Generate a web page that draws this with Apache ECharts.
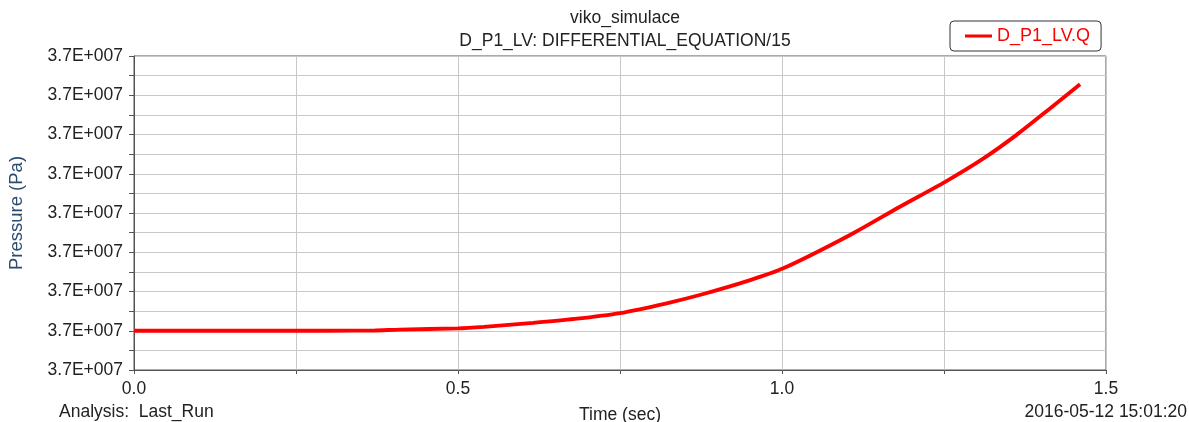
<!DOCTYPE html>
<html>
<head>
<meta charset="utf-8">
<script src="https://cdn.jsdelivr.net/npm/echarts@6/dist/echarts.min.js"></script>
<style>
html,body{margin:0;padding:0;background:#fff;}
#chart{width:1189px;height:422px;}
</style>
</head>
<body>
<div id="chart"></div>
<script>
// Data
const basePressure = 37000000; // Pa
const timeSec = [0.0, 0.1, 0.2, 0.3, 0.37, 0.41, 0.5, 0.54, 0.616, 0.68, 0.75, 0.822, 0.873, 0.951, 1.002, 1.105, 1.182, 1.2525, 1.311, 1.362, 1.414, 1.46];
const pressureOffsetPa = [1.0, 1.0, 1.0, 1.0, 1.005, 1.03, 1.06, 1.1, 1.2, 1.3, 1.45, 1.70, 1.91, 2.29, 2.59, 3.44, 4.16, 4.80, 5.39, 5.99, 6.67, 7.28];
const seriesName = 'D_P1_LV.Q';
const titleLines = ['viko_simulace', 'D_P1_LV: DIFFERENTIAL_EQUATION/15'];
const analysisText = 'Analysis:  Last_Run';
const timestampText = '2016-05-12 15:01:20';

const points = timeSec.map((t, i) => [t, basePressure + pressureOffsetPa[i]]);

function fmtExp(v) {
  const e = Math.floor(Math.log10(Math.abs(v)));
  const m = v / Math.pow(10, e);
  return m.toFixed(1) + 'E+' + String(e).padStart(3, '0');
}

const font = 'Liberation Sans, Arial, sans-serif';
const fs = 17.5;
const chart = echarts.init(document.getElementById('chart'));
chart.setOption({
  animation: false,
  backgroundColor: '#fff',
  title: {
    text: titleLines.join('\n'),
    left: 620, top: 2, textAlign: 'center',
    textStyle: { fontFamily: font, fontSize: fs, fontWeight: 'normal', color: '#222', lineHeight: 23 }
  },
  legend: {
    left: 950, top: 21,
    data: [seriesName],
    icon: 'rect', itemWidth: 27, itemHeight: 3,
    padding: [6, 11, 6, 15],
    borderColor: '#333', borderWidth: 1, borderRadius: 4,
    textStyle: { fontFamily: font, fontSize: 18, color: '#ff0000' }
  },
  grid: {
    left: 134, right: 83, top: 56, bottom: 52,
    outerBoundsMode: 'none', containLabel: false,
    show: true, borderColor: '#555', borderWidth: 1, backgroundColor: '#fff'
  },
  xAxis: {
    type: 'value', min: 0, max: 1.5, interval: 0.5,
    name: 'Time (sec)', nameLocation: 'middle', nameGap: 36,
    nameTextStyle: { fontFamily: font, fontSize: fs, color: '#222' },
    axisLine: { show: true, lineStyle: { color: '#555', width: 1 } },
    axisTick: { show: true, length: 4, lineStyle: { color: '#555' } },
    minorTick: { show: true, splitNumber: 2, length: 4, lineStyle: { color: '#555' } },
    splitLine: { show: true, lineStyle: { color: '#c8c8c8', width: 1 } },
    minorSplitLine: { show: true, lineStyle: { color: '#c8c8c8', width: 1 } },
    axisLabel: { fontFamily: font, fontSize: fs, color: '#222', margin: 10, formatter: v => v.toFixed(1) }
  },
  yAxis: {
    type: 'value', min: basePressure, max: basePressure + 8, interval: 1,
    name: 'Pressure (Pa)', nameLocation: 'middle', nameGap: 108, nameRotate: 90,
    nameTextStyle: { fontFamily: font, fontSize: 18.5, color: '#2a4d6e' },
    axisLine: { show: true, lineStyle: { color: '#555', width: 1 } },
    axisTick: { show: true, length: 5, lineStyle: { color: '#555' } },
    minorTick: { show: true, splitNumber: 2, length: 5, lineStyle: { color: '#555' } },
    splitLine: { show: true, lineStyle: { color: '#c8c8c8', width: 1 } },
    minorSplitLine: { show: true, lineStyle: { color: '#c8c8c8', width: 1 } },
    axisLabel: { fontFamily: font, fontSize: fs, color: '#222', margin: 11, formatter: v => fmtExp(v) }
  },
  graphic: [
    { type: 'text', left: 59, top: 403, style: { text: analysisText, font: fs + 'px ' + font, fill: '#222' } },
    { type: 'text', right: 2, top: 403, style: { text: timestampText, font: fs + 'px ' + font, fill: '#222' } }
  ],
  series: [{
    name: seriesName, type: 'line', data: points,
    showSymbol: false, symbol: 'none',
    smooth: 0.25,
    lineStyle: { color: '#ff0000', width: 3.8 },
    itemStyle: { color: '#ff0000' }
  }]
});
</script>
</body>
</html>
